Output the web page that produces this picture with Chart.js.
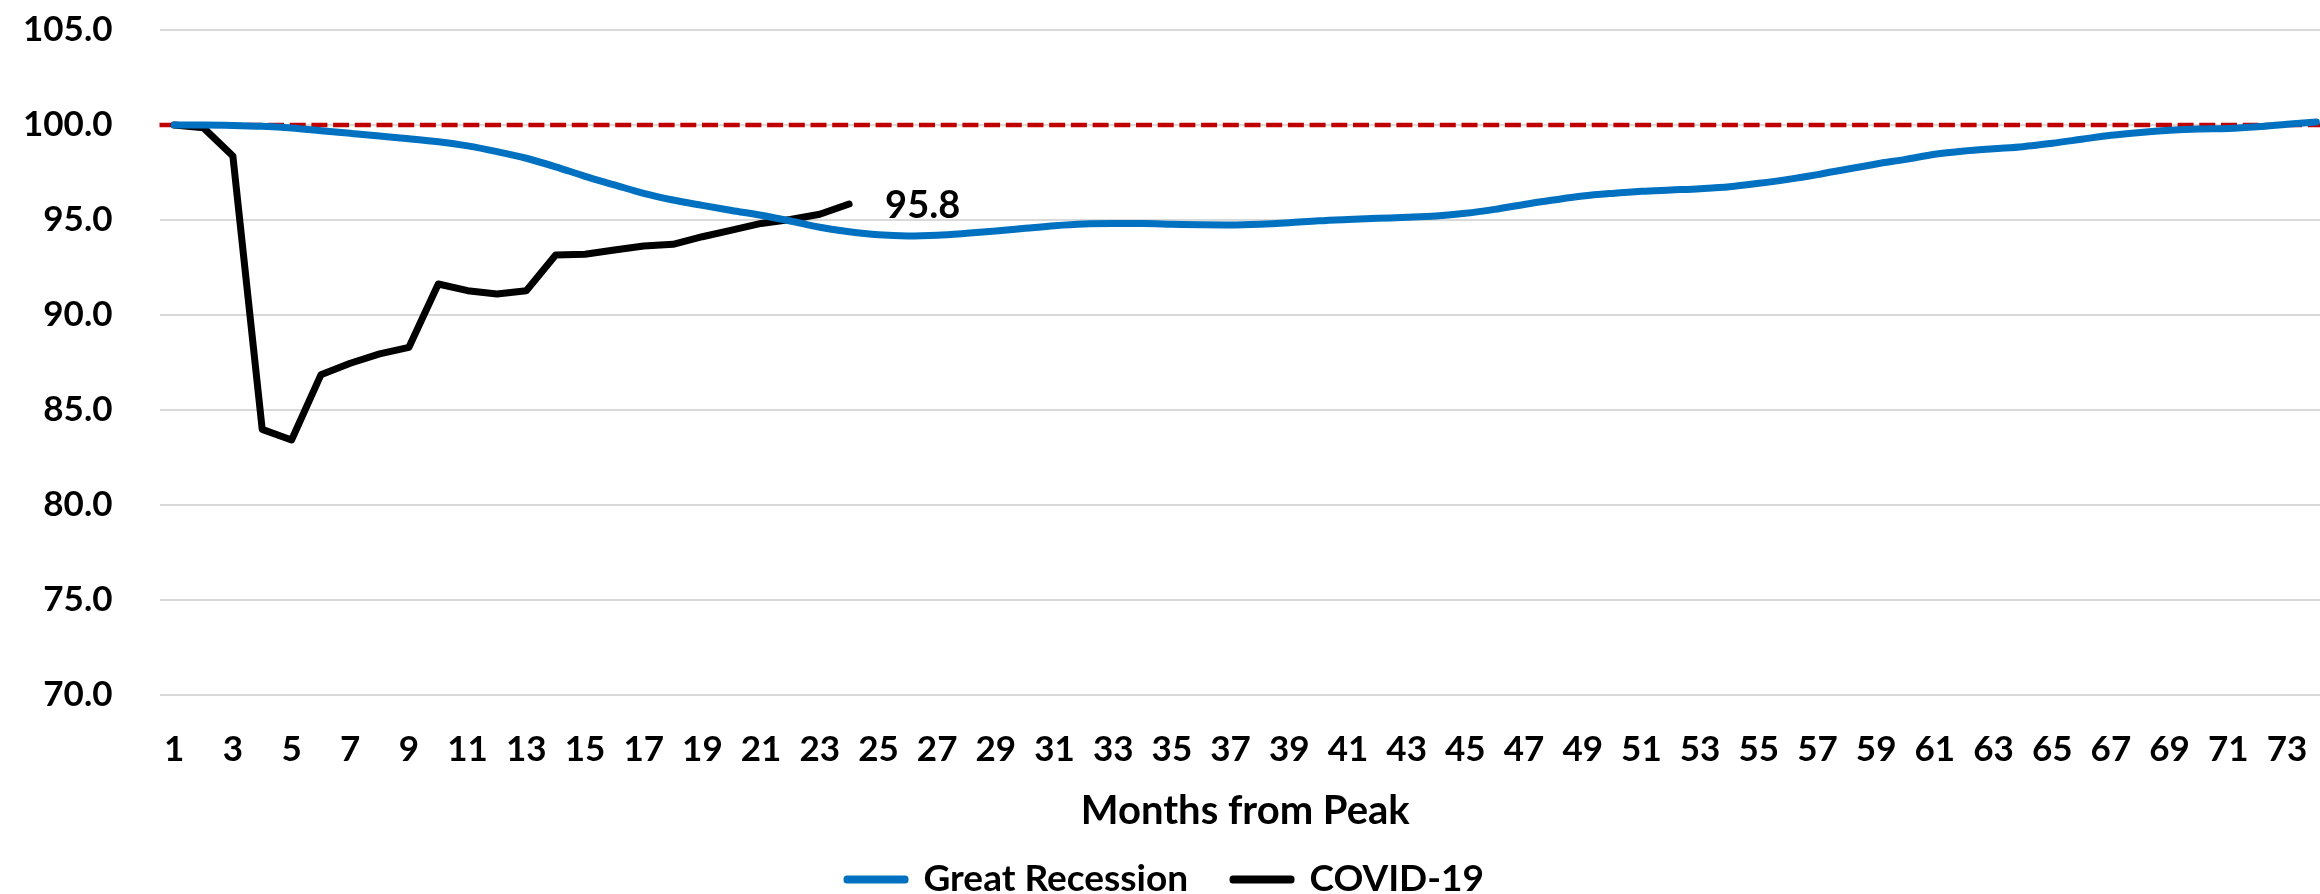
<!DOCTYPE html>
<html>
<head>
<meta charset="utf-8">
<script src="https://cdn.jsdelivr.net/npm/chart.js@4/dist/chart.umd.min.js"></script>
<style>
html, body { margin: 0; padding: 0; overflow: hidden; background: #fff; }
#wrap { width: 2331px; height: 894px; }
canvas { display: block; }
</style>
</head>
<body>
<div id="wrap"><canvas id="c" width="2331" height="894"></canvas></div>
<script>
// ---- data ----
const months = ['1','2','3','4','5','6','7','8','9','10','11','12','13','14','15','16','17','18','19','20',
  '21','22','23','24','25','26','27','28','29','30','31','32','33','34','35','36','37','38','39','40',
  '41','42','43','44','45','46','47','48','49','50','51','52','53','54','55','56','57','58','59','60',
  '61','62','63','64','65','66','67','68','69','70','71','72','73','74'];

const greatRecession = [100.0, 100.0, 99.98, 99.93, 99.84, 99.70, 99.56, 99.42, 99.28, 99.12,
  98.90, 98.60, 98.25, 97.80, 97.30, 96.85, 96.40, 96.05, 95.77, 95.50,
  95.25, 94.95, 94.62, 94.38, 94.22, 94.16, 94.20, 94.30, 94.42, 94.56,
  94.70, 94.79, 94.81, 94.81, 94.78, 94.75, 94.74, 94.78, 94.86, 94.96,
  95.03, 95.09, 95.14, 95.21, 95.35, 95.56, 95.82, 96.05, 96.26, 96.40,
  96.51, 96.58, 96.65, 96.75, 96.93, 97.14, 97.39, 97.67, 97.95, 98.19,
  98.46, 98.63, 98.75, 98.86, 99.04, 99.25, 99.46, 99.61, 99.72, 99.79,
  99.82, 99.91, 100.04, 100.16];

const covid19 = [100.0, 99.85, 98.37, 83.98, 83.42, 86.85, 87.46, 87.95, 88.30, 91.63,
  91.28, 91.10, 91.28, 93.16, 93.20, 93.42, 93.63, 93.72, 94.12, 94.47,
  94.82, 95.03, 95.30, 95.84];

const seriesNames = ['Great Recession', 'COVID-19'];
const referenceLevel = 100;
const yTicks = [70, 75, 80, 85, 90, 95, 100, 105];
const xTitle = 'Months from Peak';

// ---- styling ----
const FONT = 'Lato';
const BLUE = '#0070C0';
const BLACK = '#000000';
const RED = '#C00000';

const refLinePlugin = {
  id: 'refLine',
  beforeDatasetsDraw(chart) {
    const {ctx, chartArea, scales} = chart;
    const y = scales.y.getPixelForValue(referenceLevel);
    ctx.save();
    ctx.strokeStyle = RED;
    ctx.lineWidth = 4.5;
    ctx.setLineDash([16, 5.7]);
    ctx.beginPath();
    ctx.moveTo(chartArea.left, y);
    ctx.lineTo(chartArea.right, y);
    ctx.stroke();
    ctx.restore();
  }
};

const endLabelPlugin = {
  id: 'endLabel',
  afterDatasetsDraw(chart) {
    const meta = chart.getDatasetMeta(1);
    const pts = meta.data;
    const last = pts[pts.length - 1];
    const ctx = chart.ctx;
    ctx.save();
    ctx.font = `bold 38px ${FONT}`;
    ctx.fillStyle = '#000';
    ctx.textAlign = 'left';
    ctx.textBaseline = 'middle';
    ctx.fillText(covid19[covid19.length - 1].toFixed(1), last.x + 36, last.y + 2);
    ctx.restore();
  }
};

new Chart(document.getElementById('c'), {
  type: 'line',
  data: {
    labels: months,
    datasets: [
      {
        label: seriesNames[0],
        data: greatRecession,
        borderColor: BLUE,
        backgroundColor: BLUE,
        borderWidth: 7,
        pointRadius: 0,
        tension: 0.4,
        cubicInterpolationMode: 'monotone',
        borderCapStyle: 'round',
        borderJoinStyle: 'round',
        fill: false
      },
      {
        label: seriesNames[1],
        data: covid19,
        borderColor: BLACK,
        backgroundColor: BLACK,
        borderWidth: 7,
        pointRadius: 0,
        tension: 0,
        borderCapStyle: 'round',
        borderJoinStyle: 'round',
        fill: false
      }
    ]
  },
  options: {
    responsive: false,
    animation: false,
    devicePixelRatio: 1,
    layout: { padding: { top: 30, left: 0, right: 0, bottom: -14 } },
    plugins: {
      legend: {
        position: 'bottom',
        labels: {
          font: { family: FONT, size: 37, weight: 'bold' },
          color: '#000',
          boxWidth: 58,
          boxHeight: 1,
          padding: 45,
          generateLabels(chart) {
            const items = Chart.defaults.plugins.legend.labels.generateLabels(chart);
            items.forEach(it => { it.lineWidth = 7; it.lineJoin = 'round'; });
            return items;
          }
        }
      },
      tooltip: { enabled: false }
    },
    scales: {
      x: {
        offset: true,
        grid: { display: false, drawTicks: true, tickLength: 34, tickColor: 'rgba(0,0,0,0)' },
        border: { display: false },
        ticks: {
          autoSkip: false,
          maxRotation: 0,
          minRotation: 0,
          padding: 0,
          color: '#000',
          font: { family: FONT, size: 35, weight: 'bold' },
          callback: function(v, i) { return i % 2 === 0 ? months[i] : ''; }
        },
        title: {
          display: true,
          text: xTitle,
          color: '#000',
          font: { family: FONT, size: 40, weight: 'bold' },
          padding: { top: 0, bottom: -19 }
        },
        afterFit(scale) { scale.height = 121; }
      },
      y: {
        min: 70,
        max: 105,
        afterBuildTicks(scale) { scale.ticks = yTicks.map(v => ({ value: v })); },
        grid: { color: '#d9d9d9', lineWidth: 2, drawTicks: true, tickLength: 47, tickColor: 'rgba(0,0,0,0)' },
        border: { display: false },
        ticks: {
          padding: 0,
          color: '#000',
          font: { family: FONT, size: 35, weight: 'bold' },
          callback: v => Number(v).toFixed(1)
        },
        afterFit(scale) { scale.width = 159.5; }
      }
    }
  },
  plugins: [refLinePlugin, endLabelPlugin]
});
</script>
</body>
</html>
